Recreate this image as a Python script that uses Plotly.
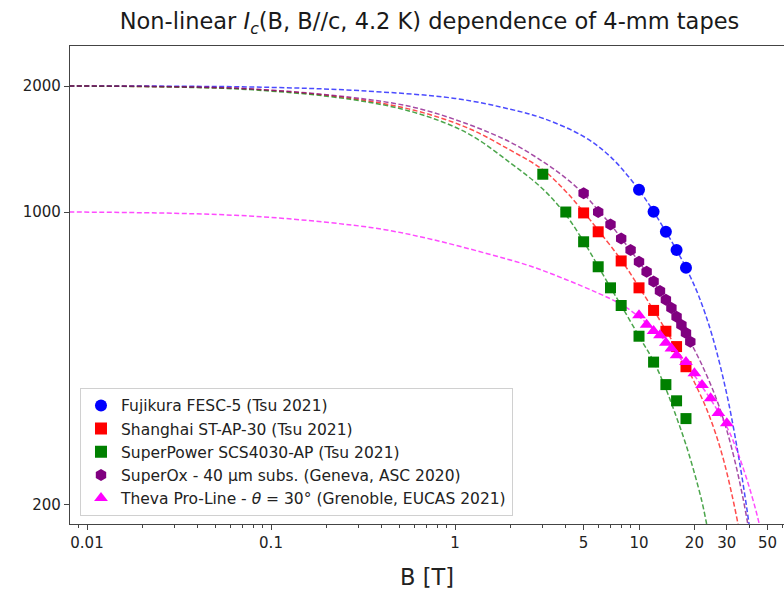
import plotly.graph_objects as go

# ---- measured data (B in T, Ic in A) ----
fujikura_B = [10, 12, 14, 16, 18]
fujikura_Ic = [1130, 1002, 897, 811, 736]

shanghai_B = [5, 6, 8, 10, 12, 14, 16, 18]
shanghai_Ic = [995, 897, 764, 659, 582, 519, 477, 427]

superpower_B = [3, 4, 5, 6, 7, 8, 10, 12, 14, 16, 18]
superpower_Ic = [1231, 1000, 849, 740, 659, 598, 505, 438, 387, 354, 321]

superox_B = [5, 6, 7, 8, 9, 10, 11, 12, 13, 14, 15, 16, 17, 18, 19]
superox_Ic = [1109, 1000, 934, 865, 811, 761, 720, 682, 648, 617, 590, 562, 537, 514, 490]

theva_B = [10, 11, 12, 13, 14, 15, 16, 18, 20, 22, 24.5, 27, 30]
theva_Ic = [567, 538, 520, 508, 487, 472, 455, 438, 412, 386, 359, 331, 313]

# ---- fit curves ----
fit_fujikura_B = [0.008, 0.03, 0.1, 0.3, 1, 2, 3, 5, 7, 10, 12, 14, 16, 18, 21, 25, 30, 35, 39.6, 40.5]
fit_fujikura_Ic = [2000, 1998, 1985, 1950, 1868, 1760, 1675, 1515, 1355, 1129, 1002, 897, 811, 736, 634, 506, 367, 256, 180, 165]

fit_shanghai_B = [0.008, 0.03, 0.08, 0.27, 0.6, 1.16, 2, 3, 4, 5, 6, 8, 10, 12, 14, 16, 18, 20, 23, 26, 29, 32, 34.5, 35.5]
fit_shanghai_Ic = [2000, 1990, 1965, 1870, 1750, 1591, 1405, 1262, 1120, 1000, 905, 768, 662, 583, 522, 472, 430, 392, 343, 297, 253, 211, 180, 168]

fit_superpower_B = [0.008, 0.03, 0.08, 0.27, 0.6, 1.16, 2, 3, 4, 5, 6, 7, 8, 10, 12, 14, 16, 18, 20, 22, 23.3, 24]
fit_superpower_Ic = [2000, 1988, 1958, 1859, 1730, 1545, 1310, 1135, 985, 850, 742, 660, 598, 505, 440, 378, 323, 278, 238, 203, 180, 168]

fit_superox_B = [0.008, 0.03, 0.08, 0.27, 0.6, 1.16, 2, 3, 4, 5, 6, 7, 8, 9, 10, 12, 14, 16, 18, 19, 22, 26, 30, 34, 37, 39, 40]
fit_superox_Ic = [2000, 1992, 1967, 1880, 1778, 1625, 1468, 1320, 1205, 1105, 1010, 935, 866, 810, 760, 680, 616, 562, 513, 490, 431, 363, 301, 243, 204, 180, 169]

fit_theva_B = [0.008, 0.03, 0.08, 0.2, 0.4, 0.75, 1.5, 2.56, 4, 6, 8, 10, 12, 14, 16, 18, 20, 22, 25, 28, 31, 34, 37, 40, 43, 45, 46]
fit_theva_Ic = [1000, 993, 977, 945, 910, 860, 795, 743, 690, 640, 602, 562, 525, 490, 458, 430, 407, 383, 352, 324, 298, 270, 243, 218, 195, 180, 173]

x_tick_vals = [0.01, 0.1, 1, 5, 10, 20, 30, 50]
x_tick_text = ["0.01", "0.1", "1", "5", "10", "20", "30", "50"]
x_minor_vals = [0.009, 0.02, 0.03, 0.04, 0.05, 0.06, 0.07, 0.08, 0.09,
                0.2, 0.3, 0.4, 0.5, 0.6, 0.7, 0.8, 0.9,
                2, 3, 4, 6, 7, 8, 9, 40, 60]
y_tick_vals = [200, 1000, 2000]
y_tick_text = ["200", "1000", "2000"]

series = [
    ("Fujikura FESC-5 (Tsu 2021)", fujikura_B, fujikura_Ic, fit_fujikura_B, fit_fujikura_Ic, "#0000ff", "circle", 12),
    ("Shanghai ST-AP-30 (Tsu 2021)", shanghai_B, shanghai_Ic, fit_shanghai_B, fit_shanghai_Ic, "#ff0000", "square", 11),
    ("SuperPower SCS4030-AP (Tsu 2021)", superpower_B, superpower_Ic, fit_superpower_B, fit_superpower_Ic, "#008000", "square", 11),
    ("SuperOx - 40 µm subs. (Geneva, ASC 2020)", superox_B, superox_Ic, fit_superox_B, fit_superox_Ic, "#800080", "hexagon", 12),
    ("Theva Pro-Line - <i>θ</i> = 30° (Grenoble, EUCAS 2021)", theva_B, theva_Ic, fit_theva_B, fit_theva_Ic, "#ff00ff", "triangle-up", 12),
]

fig = go.Figure()

for name, bx, iy, fx, fy, col, sym, sz in series:
    fig.add_trace(go.Scatter(
        x=fx, y=fy, mode="lines", showlegend=False, hoverinfo="skip",
        line=dict(color=col, width=1.5, dash="5px,2.5px", shape="spline", smoothing=1.0),
        opacity=0.7,
    ))

for name, bx, iy, fx, fy, col, sym, sz in series:
    fig.add_trace(go.Scatter(
        x=bx, y=iy, mode="markers", name=name,
        marker=dict(color=col, symbol=sym, size=sz, line=dict(width=0)),
    ))

axis_font = dict(family="DejaVu Sans", size=15, color="#222222")

fig.update_layout(
    width=784, height=590,
    margin=dict(l=70, r=0, t=46, b=66, pad=0),
    paper_bgcolor="white", plot_bgcolor="white",
    font=dict(family="DejaVu Sans", size=15, color="#222222"),
    title=dict(
        text="Non-linear <i>I</i><sub><i>c</i></sub>(B, B//c, 4.2 K) dependence of 4-mm tapes",
        x=429.5 / 784, xref="container", xanchor="center",
        y=1 - 21 / 590, yref="container", yanchor="middle",
        font=dict(family="DejaVu Sans", size=22.5, color="#1a1a1a"),
    ),
    showlegend=True,
    legend=dict(
        x=0.014, y=0.017, xanchor="left", yanchor="bottom",
        bgcolor="rgba(255,255,255,0.85)", bordercolor="#d0d0d0", borderwidth=1,
        font=dict(family="DejaVu Sans", size=15.5, color="#222222"),
        itemsizing="constant",
    ),
)

fig.update_xaxes(
    type="log", range=[-2.0924, 1.788],
    showgrid=False, zeroline=False,
    showline=True, linecolor="#444444", linewidth=1.2, mirror=True,
    ticks="outside", ticklen=5, tickwidth=1.2, tickcolor="#444444",
    tickvals=x_tick_vals, ticktext=x_tick_text, tickfont=axis_font,
    minor=dict(ticks="outside", ticklen=3, tickwidth=1, tickcolor="#444444", tickvals=x_minor_vals, showgrid=False),
    title=dict(text="B [T]", font=dict(family="DejaVu Sans", size=22.5, color="#222222"), standoff=18),
    automargin=False,
)
fig.update_yaxes(
    type="log", range=[2.2547, 3.3966],
    showgrid=False, zeroline=False,
    showline=True, linecolor="#444444", linewidth=1.2, mirror=False,
    ticks="outside", ticklen=5, tickwidth=1.2, tickcolor="#444444",
    tickvals=y_tick_vals, ticktext=y_tick_text, tickfont=axis_font,
    automargin=False,
)

fig.write_html(
    "out.html",
    config={"displayModeBar": False},
    post_script="document.body.style.margin='0';document.body.style.overflow='hidden';",
)
